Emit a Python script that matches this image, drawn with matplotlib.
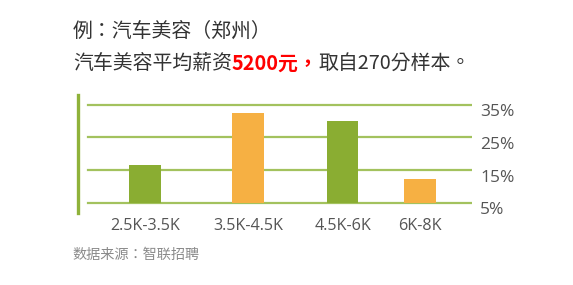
import matplotlib
matplotlib.use("Agg")
import matplotlib.pyplot as plt
from matplotlib.transforms import ScaledTranslation

# Salary bands and share of samples (%)
categories = ["2.5K-3.5K", "3.5K-4.5K", "4.5K-6K", "6K-8K"]
shares = [16.5, 32.5, 30.0, 12.3]
ytick_values = [5, 15, 25, 35]
ytick_labels = ["5%", "15%", "25%", "35%"]
baseline = 5

title_line1 = "例：汽车美容（郑州）"
subtitle_parts = ["汽车美容平均薪资", "5200元，", "取自270分样本。"]
source_text = "数据来源：智联招聘"

# layout
slot_centers = [0.0, 1.0, 1.92, 2.67]
bar_width = 0.305
bar_colors = ["#8aad32", "#f6b043", "#8aad32", "#f6b043"]
grid_color = "#a3c25e"
spine_color = "#8fb23a"
label_color = "#555555"

W, H, DPI = 573, 285, 100
fig = plt.figure(figsize=(W / DPI, H / DPI), dpi=DPI)
fig.patch.set_facecolor("white")

cjk = ["Noto Sans CJK TC", "DejaVu Sans"]
cjk_sc = ["Noto Sans CJK SC", "DejaVu Sans"]
latin = ["Open Sans", "Noto Sans CJK SC", "DejaVu Sans"]

# axes box in pixels: left 77.5, right 472, top 95, bottom 213
ax_l, ax_r, ax_t, ax_b = 77.5, 472, 95, 213
ax = fig.add_axes([ax_l / W, 1 - ax_b / H, (ax_r - ax_l) / W, (ax_b - ax_t) / H])
ax.set_facecolor("none")

ax.set_xlim(-0.655, 3.175)
ax.set_ylim(1.85, 37.97)

# horizontal guide lines start a little right of the left rule
grid_start = (88 - ax_l) / (ax_r - ax_l)
for v in ytick_values:
    ax.axhline(v, xmin=grid_start, xmax=1, color=grid_color, lw=1.6, zorder=1)

bottoms = [baseline] * len(shares)
heights = [s - baseline for s in shares]
ax.bar(slot_centers, heights, width=bar_width, bottom=bottoms,
       color=bar_colors, zorder=2, linewidth=0)

for side in ["top", "right", "bottom"]:
    ax.spines[side].set_visible(False)
ax.spines["left"].set_color(spine_color)
ax.spines["left"].set_linewidth(2.4)

ax.set_xticks(slot_centers)
ax.set_xticklabels(categories, family=latin, fontsize=11.6, color=label_color)
ax.tick_params(axis="x", length=0, pad=3.5)

ax.yaxis.tick_right()
ax.set_yticks(ytick_values)
ax.set_yticklabels(ytick_labels, family=latin, fontsize=12.5, color=label_color)
ax.tick_params(axis="y", length=0, pad=6)
shift = ScaledTranslation(0, -0.055, fig.dpi_scale_trans)
for lbl in ax.get_yticklabels():
    lbl.set_transform(lbl.get_transform() + shift)

# header text
fig.text(73 / W, 1 - 31 / H, title_line1, family=cjk, fontsize=14.3,
         color="#333333", va="center", ha="left")

renderer = fig.canvas.get_renderer()
x_px = 73
styles = [dict(color="#333333", weight="normal"),
          dict(color="#ff0000", weight="bold"),
          dict(color="#333333", weight="normal")]
for part, st in zip(subtitle_parts, styles):
    t = fig.text(x_px / W, 1 - 63 / H, part, family=cjk, fontsize=14.3,
                 va="center", ha="left", **st)
    bb = t.get_window_extent(renderer=renderer)
    x_px += bb.width

fig.text(72 / W, 1 - 255 / H, source_text, family=cjk, fontsize=10.2,
         color="#8a8a8a", va="center", ha="left")

fig.savefig("out.png", dpi=DPI, facecolor="white")
